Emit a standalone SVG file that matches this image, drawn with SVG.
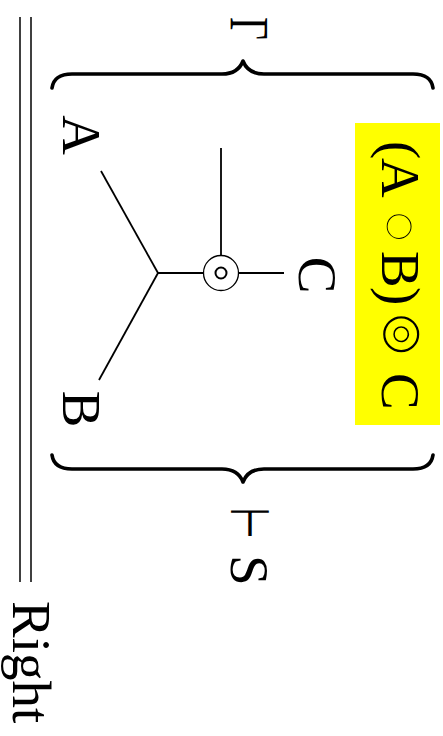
<svg xmlns="http://www.w3.org/2000/svg" width="443" height="736" viewBox="0 0 443 736">
  <style>
    .lbl { font-family: "Liberation Serif", "DejaVu Serif", serif; font-size: 55px; fill: #000; }
    .sym { font-family: "DejaVu Sans", "Liberation Serif", sans-serif; fill: #000; }
    .thin { stroke: #ffff00; paint-order: fill stroke; }
    .edge { stroke: #000; stroke-width: 1.8; fill: none; stroke-linecap: butt; }
    .brace { stroke: #000; stroke-width: 3.6; fill: none; stroke-linecap: round; stroke-linejoin: round; }
    .rule { stroke: #000; stroke-width: 1.5; }
  </style>

  <!-- inference rule bar, turned on its side -->
  <g id="rule">
    <line class="rule" x1="20" y1="17" x2="20" y2="582"/>
    <line class="rule" x1="31" y1="17" x2="31" y2="582"/>
    <text class="lbl" transform="translate(13,601) rotate(90)" x="0" y="0">Right</text>
  </g>

  <!-- context brace with Γ -->
  <g id="gamma-brace">
    <path class="brace" d="M52,88 Q54,74 72,74 L222,74 Q238,74 243,61 Q248,74 264,74 L413,74 Q431,74 433,88"/>
    <text class="lbl" transform="translate(231,17) rotate(90) scale(0.72,1)" x="0" y="0">Γ</text>
  </g>

  <!-- conclusion brace with ⊢ S -->
  <g id="turnstile-brace">
    <path class="brace" d="M52,455 Q54,469 72,469 L222,469 Q238,469 243,482 Q248,469 264,469 L413,469 Q431,469 433,455"/>
    <text class="sym" font-size="54" transform="translate(231,512) rotate(90) scale(0.68,1)" x="-7" y="0">⊢</text>
    <text class="lbl" transform="translate(231,0) rotate(90)" x="555" y="0">S</text>
  </g>

  <!-- connectors -->
  <g id="connectors">
    <line class="edge" x1="101" y1="171" x2="158" y2="273"/>
    <line class="edge" x1="99" y1="380" x2="158" y2="273"/>
    <line class="edge" x1="158" y1="273" x2="203" y2="273"/>
    <line class="edge" x1="221" y1="148" x2="221" y2="255.5"/>
    <line class="edge" x1="238.5" y1="273" x2="284" y2="273"/>
  </g>

  <!-- nodes -->
  <g id="node-A">
    <text class="lbl" transform="translate(63,135) rotate(90)" x="0" y="0" text-anchor="middle">A</text>
  </g>
  <g id="node-B">
    <text class="lbl" transform="translate(63,409) rotate(90)" x="0" y="0" text-anchor="middle">B</text>
  </g>
  <g id="node-C">
    <text class="lbl" transform="translate(299,275) rotate(90)" x="0" y="0" text-anchor="middle">C</text>
  </g>
  <g id="node-op">
    <circle cx="221" cy="273" r="17.5" fill="#fff" stroke="#000" stroke-width="1.3"/>
    <circle cx="221" cy="273" r="5.5" fill="none" stroke="#000" stroke-width="2"/>
  </g>

  <!-- highlighted result -->
  <g id="node-result">
    <rect x="355" y="123" width="85" height="302" fill="#ffff00"/>
    <text transform="translate(382,0) rotate(90)" x="0" y="0"><tspan class="lbl" x="141">(</tspan><tspan class="lbl" x="158">A</tspan><tspan class="sym thin" font-size="96" stroke-width="5" x="196.5" dy="12.8">∘</tspan><tspan class="lbl" x="251" dy="-12.8">B</tspan><tspan class="lbl" x="287">)</tspan><tspan class="sym thin" font-size="58" stroke-width="2" x="310" dy="-1">⊚</tspan><tspan class="lbl" x="373" dy="1">C</tspan></text>
  </g>
</svg>
